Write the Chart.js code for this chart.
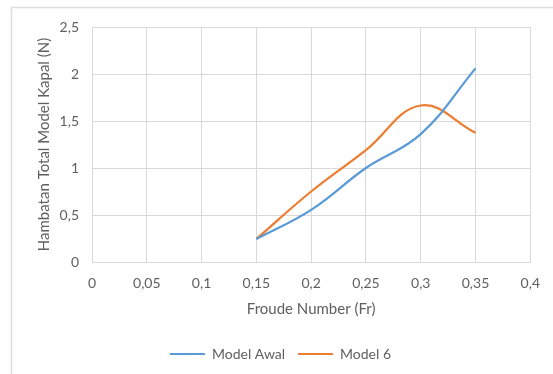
<!DOCTYPE html>
<html>
<head>
<meta charset="utf-8">
<script src="https://cdn.jsdelivr.net/npm/chart.js@4"></script>
<style>
  html, body { margin: 0; padding: 0; background: #ffffff; }
  #wrap { position: relative; width: 553px; height: 374px; }
</style>
</head>
<body>
<div id="wrap"><canvas id="chart" width="553" height="374"></canvas></div>
<script>
// Froude number of each test run
const froude = [0.15, 0.2, 0.25, 0.3, 0.35];
// Total resistance of the ship model (N)
const modelAwal = [0.245, 0.555, 1.0, 1.36, 2.06];
const model6 = [0.245, 0.75, 1.19, 1.665, 1.375];

const seriesNames = ['Model Awal', 'Model 6'];
const xTickLabels = ['0', '0,05', '0,1', '0,15', '0,2', '0,25', '0,3', '0,35', '0,4'];
const yTickLabels = ['0', '0,5', '1', '1,5', '2', '2,5'];

const toPoints = (ys) => froude.map((x, i) => ({ x: x, y: ys[i] }));

const textColor = '#606060';
const gridColor = '#d9d9d9';
const fontFamily = 'Lato, "Open Sans", sans-serif';

// thin frame along the top and left edges of the chart box
const framePlugin = {
  id: 'frame',
  beforeDraw(chart) {
    const ctx = chart.ctx;
    ctx.save();
    ctx.strokeStyle = '#dedede';
    ctx.lineWidth = 1.5;
    ctx.beginPath();
    ctx.moveTo(553, 7.5);
    ctx.lineTo(11.5, 7.5);
    ctx.lineTo(11.5, 374);
    ctx.stroke();
    ctx.restore();
  }
};

new Chart(document.getElementById('chart'), {
  type: 'line',
  data: {
    datasets: [
      {
        label: seriesNames[0],
        data: toPoints(modelAwal),
        borderColor: '#5B9BD5',
        backgroundColor: '#5B9BD5',
        borderWidth: 2.25,
        pointRadius: 0,
        tension: 0.4,
        fill: false
      },
      {
        label: seriesNames[1],
        data: toPoints(model6),
        borderColor: '#ED7D31',
        backgroundColor: '#ED7D31',
        borderWidth: 2.25,
        pointRadius: 0,
        tension: 0.4,
        fill: false
      }
    ]
  },
  options: {
    responsive: false,
    animation: false,
    events: [],
    layout: { padding: { left: 28, right: 20, top: 27, bottom: 3 } },
    plugins: {
      tooltip: { enabled: false },
      legend: {
        position: 'bottom',
        labels: {
          color: textColor,
          font: { family: fontFamily, size: 14 },
          boxWidth: 35,
          boxHeight: 2,
          padding: 13,
          generateLabels(chart) {
            const items = Chart.defaults.plugins.legend.labels.generateLabels(chart);
            items.forEach((it) => { it.lineWidth = 0; });
            return items;
          }
        }
      }
    },
    scales: {
      x: {
        type: 'linear',
        min: 0,
        max: 0.4,
        afterFit(axis) { axis.height = 72; },
        ticks: {
          stepSize: 0.05,
          color: textColor,
          font: { family: fontFamily, size: 14 },
          padding: 13,
          maxRotation: 0,
          callback: (v, i) => xTickLabels[i]
        },
        grid: { color: gridColor, drawTicks: false },
        border: { color: gridColor },
        title: {
          display: true,
          text: 'Froude Number (Fr)',
          color: textColor,
          font: { family: fontFamily, size: 15 },
          padding: { top: 0, bottom: 16 }
        }
      },
      y: {
        min: 0,
        max: 2.5,
        afterFit(axis) { axis.width = 64; },
        ticks: {
          stepSize: 0.5,
          color: textColor,
          font: { family: fontFamily, size: 14 },
          padding: 13,
          callback: (v, i) => yTickLabels[i]
        },
        grid: { color: gridColor, drawTicks: false },
        border: { color: gridColor },
        title: {
          display: true,
          text: 'Hambatan Total Model Kapal (N)',
          color: textColor,
          font: { family: fontFamily, size: 15 },
          padding: { top: 7, bottom: 0 }
        }
      }
    }
  },
  plugins: [framePlugin]
});
</script>
</body>
</html>
